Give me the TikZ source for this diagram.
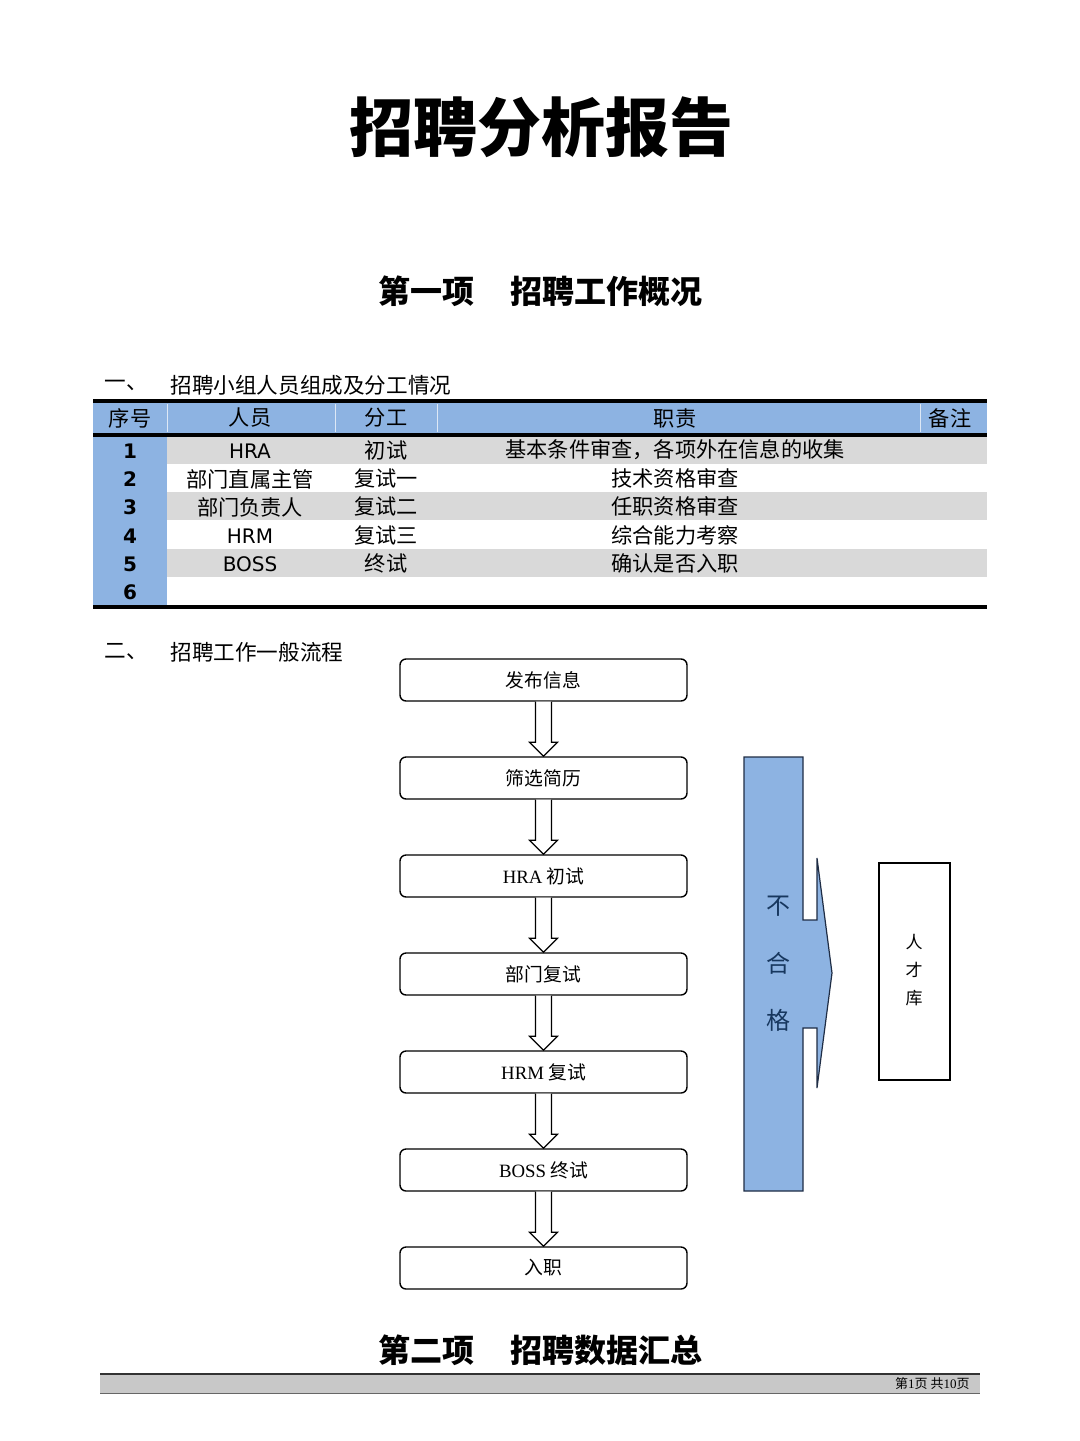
\documentclass[tikz,border=0pt]{standalone}
\usepackage{fontspec}
\setmainfont{Liberation Serif}
\newfontfamily\cjk{Noto Sans CJK SC}
\newfontfamily\verd{DejaVu Sans}
\usetikzlibrary{calc}
\definecolor{hblue}{HTML}{8DB3E2}
\definecolor{rgray}{HTML}{D9D9D9}
\definecolor{navy}{HTML}{17375E}
\definecolor{fgray}{HTML}{C8C8C8}
\definecolor{edgeblue}{HTML}{1F2D45}
\newcommand\fsz[2]{\fontsize{#1pt}{#2pt}\selectfont}
\newcommand\blockarrow[2]{%
  \draw[barrow] ($(#1.south)+(-8,0)$) -- ($(#2.north)+(-8,-14)$) -- ($(#2.north)+(-14,-14)$)
    -- (#2.north) -- ($(#2.north)+(14,-14)$) -- ($(#2.north)+(8,-14)$) -- ($(#1.south)+(8,0)$);}
\begin{document}
\begin{tikzpicture}[x=0.5pt,y=-0.5pt,
  flowbox/.style={draw=black,line width=0.7pt,rounded corners=3pt,fill=white,minimum width=143.5pt,minimum height=21pt,inner sep=0pt,font=\cjk\fsz{9.4}{11}},
  barrow/.style={draw=black,line width=0.6pt,fill=white},
  hdr/.style={font=\cjk\fsz{10.6}{12},inner sep=0pt},
  cell/.style={font=\cjk\fsz{10.6}{12},inner sep=0pt},
  num/.style={font=\verd\bfseries\fsz{10}{12},inner sep=0pt},
  lat/.style={font=\verd\fsz{10}{12},inner sep=0pt},
  sec/.style={font=\cjk\bfseries\fsz{16}{19},inner sep=0pt},
  sub/.style={font=\cjk\fsz{10.8}{13},inner sep=0pt,anchor=west},
  tbl/.style={line width=2pt,draw=black}
]
\useasboundingbox[fill=white] (0,0) rectangle (1080,1441);

% Title and section headings
\node[font=\cjk\bfseries\fsz{32}{38},inner sep=0pt] (title) at (541,127) {招聘分析报告};
\node[sec] (sec1) at (540.5,291) {第一项\hspace{18pt}招聘工作概况};
\node[sub] (s1a) at (104,385) {一、};
\node[sub] (s1b) at (170,385) {招聘小组人员组成及分工情况};

% Table backgrounds
\fill[hblue] (93,403) rectangle (987,433);
\fill[hblue] (93,436) rectangle (167,605);
\foreach \ya/\yb in {436/464,492/520,549/577}{\fill[rgray] (167,\ya) rectangle (987,\yb);}
\foreach \xx in {167,335,437,920}{\draw[white!70!hblue,line width=0.4pt] (\xx,404) -- (\xx,432);}
\draw[tbl] (93,401) -- (987,401);
\draw[tbl] (93,434.5) -- (987,434.5);
\draw[tbl] (93,607) -- (987,607);

% Header
\node[hdr] (h1) at (130,418) {序号};
\node[hdr] (h2) at (250,418) {人员};
\node[hdr] (h3) at (386,418) {分工};
\node[hdr] (h4) at (675,418) {职责};
\node[hdr] (h5) at (950,418) {备注};

% Rows
\node[num] (n1) at (130,451) {1};
\node[num] (n2) at (130,479) {2};
\node[num] (n3) at (130,507) {3};
\node[num] (n4) at (130,536) {4};
\node[num] (n5) at (130,564) {5};
\node[num] (n6) at (130,592) {6};

\node[lat] (p1) at (250,451) {HRA};
\node[cell] (p2) at (250,479) {部门直属主管};
\node[cell] (p3) at (250,507) {部门负责人};
\node[lat] (p4) at (250,536) {HRM};
\node[lat] (p5) at (250,564) {BOSS};

\node[cell] (d1) at (386,450) {初试};
\node[cell] (d2) at (386,478) {复试一};
\node[cell] (d3) at (386,506) {复试二};
\node[cell] (d4) at (386,535) {复试三};
\node[cell] (d5) at (386,563) {终试};

\node[cell] (r1) at (675,450) {基本条件审查，各项外在信息的收集};
\node[cell] (r2) at (675,478) {技术资格审查};
\node[cell] (r3) at (675,506) {任职资格审查};
\node[cell] (r4) at (675,535) {综合能力考察};
\node[cell] (r5) at (675,563) {确认是否入职};

% Section 2
\node[sub] (s2a) at (104,652) {二、};
\node[sub] (s2b) at (170,652) {招聘工作一般流程};

% Flow chart
\node[flowbox] (b1) at (543.5,680) {发布信息};
\node[flowbox] (b2) at (543.5,778) {筛选简历};
\node[flowbox] (b3) at (543.5,876) {{\rmfamily HRA} 初试};
\node[flowbox] (b4) at (543.5,974) {部门复试};
\node[flowbox] (b5) at (543.5,1072) {{\rmfamily HRM} 复试};
\node[flowbox] (b6) at (543.5,1170) {{\rmfamily BOSS} 终试};
\node[flowbox] (b7) at (543.5,1268) {入职};
\blockarrow{b1}{b2}
\blockarrow{b2}{b3}
\blockarrow{b3}{b4}
\blockarrow{b4}{b5}
\blockarrow{b5}{b6}
\blockarrow{b6}{b7}

% Reject bar with arrow
\draw[fill=hblue,draw=edgeblue,line width=0.6pt,line join=miter]
  (744,757) -- (803,757) -- (803,920) -- (817,920) -- (817,858) -- (832,973)
  -- (817,1088) -- (817,1028) -- (803,1028) -- (803,1191) -- (744,1191) -- cycle;
\node[font=\cjk\fsz{12}{14},text=navy,inner sep=0pt] (q1) at (778,906) {不};
\node[font=\cjk\fsz{12}{14},text=navy,inner sep=0pt] (q2) at (778,963) {合};
\node[font=\cjk\fsz{12}{14},text=navy,inner sep=0pt] (q3) at (778,1020) {格};

% Talent pool
\node[draw=black,line width=0.6pt,fill=white,minimum width=35.5pt,minimum height=108.5pt,inner sep=0pt] (pool) at (914.5,971.5) {};
\node[font=\cjk\fsz{8.5}{10},inner sep=0pt] (t1) at (914,942) {人};
\node[font=\cjk\fsz{8.5}{10},inner sep=0pt] (t2) at (914,970) {才};
\node[font=\cjk\fsz{8.5}{10},inner sep=0pt] (t3) at (914,998) {库};

% Section 3 heading
\node[sec] (sec2) at (540.5,1350) {第二项\hspace{18pt}招聘数据汇总};

% Footer
\fill[fgray] (100,1374) rectangle (980,1393);
\draw[black!80,line width=1pt] (100,1374) -- (980,1374);
\draw[black!60,line width=0.5pt] (100,1393) -- (980,1393);
\node[font=\cjk\fsz{6.5}{8},inner sep=0pt,anchor=east] (foot) at (970,1384) {第{\rmfamily 1}页 共{\rmfamily 10}页};
\end{tikzpicture}
\end{document}
